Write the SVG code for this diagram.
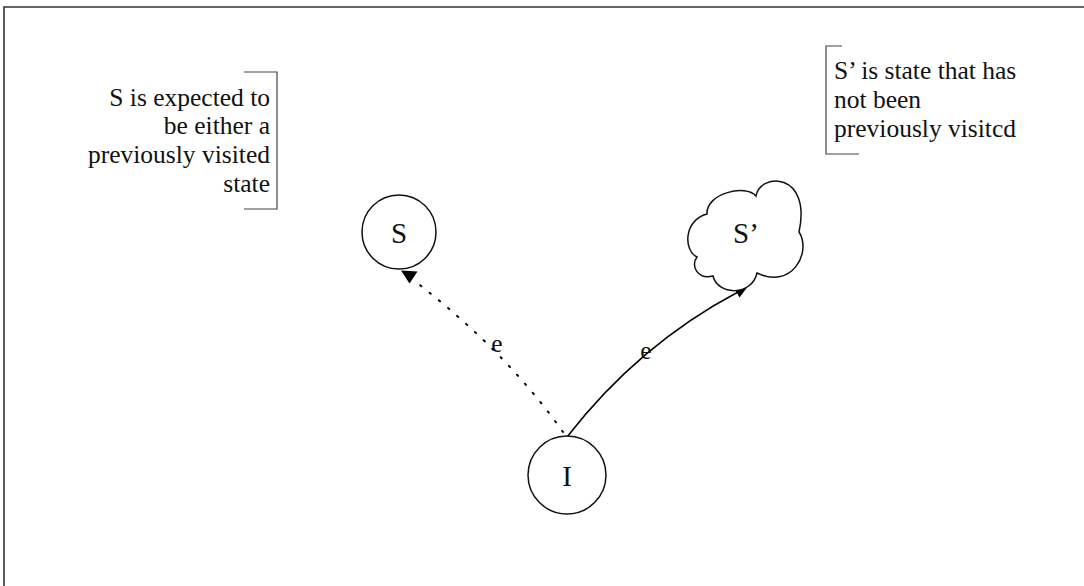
<svg xmlns="http://www.w3.org/2000/svg" width="1084" height="586" viewBox="0 0 1084 586">
<style>
.t{font-family:"Liberation Serif","Times New Roman",serif;font-size:25.5px;fill:#111}
.n{font-family:"Liberation Serif","Times New Roman",serif;font-size:29px;fill:#111;text-anchor:middle}
.br{fill:none;stroke:#444;stroke-width:1.2}
.sh{fill:#fff;stroke:#111;stroke-width:1.5}
.ah{fill:#000;stroke:none}
</style>
<rect width="1084" height="586" fill="#fff"/>
<g id="frame">
<path d="M4,586 V7 H1084" fill="none" stroke="#333" stroke-width="1.6"/>
</g>
<g id="note-left">
<path class="br" d="M244,72 H277 V209 H244"/>
<text class="t" text-anchor="end" x="270" y="106">S is expected to</text>
<text class="t" text-anchor="end" x="270" y="134">be either a</text>
<text class="t" text-anchor="end" x="270" y="163">previously visited</text>
<text class="t" text-anchor="end" x="270" y="192">state</text>
</g>
<g id="note-right">
<path class="br" d="M842,46 H826 V154 H859"/>
<text class="t" x="834" y="79">S’ is state that has</text>
<text class="t" x="834" y="108">not been</text>
<text class="t" x="834" y="137">previously visitcd</text>
</g>
<g id="connectors">
<path d="M563,432 Q505,350 412,279" fill="none" stroke="#000" stroke-width="2" stroke-dasharray="1.5 10.5" stroke-linecap="round"/>
<polygon class="ah" points="401,270.5 417.5,271.5 409.5,283.5"/>
<path d="M567,437 Q638.6,344.7 738,292" fill="none" stroke="#000" stroke-width="1.5"/>
<polygon class="ah" points="734,288 747,287.5 739.5,297.5"/>
<text class="t" x="497" y="352" text-anchor="middle">e</text>
<text class="t" x="646" y="359" text-anchor="middle">e</text>
</g>
<g id="node-S">
<circle class="sh" cx="399" cy="232" r="37"/>
<text class="n" x="399" y="243">S</text>
</g>
<g id="node-Sprime">
<path class="sh" d="M707,214 C706,193 746,184 756,196 C760,172 812,172 799,232 C812,252 792,290 757,273 C752,296 718,296 713,276 C698,280 690,266 697,257 C683,250 684,220 707,214 Z"/>
<text class="n" x="746" y="243">S’</text>
</g>
<g id="node-I">
<circle class="sh" cx="567" cy="475" r="39"/>
<text class="n" x="567" y="486">I</text>
</g>
</svg>
